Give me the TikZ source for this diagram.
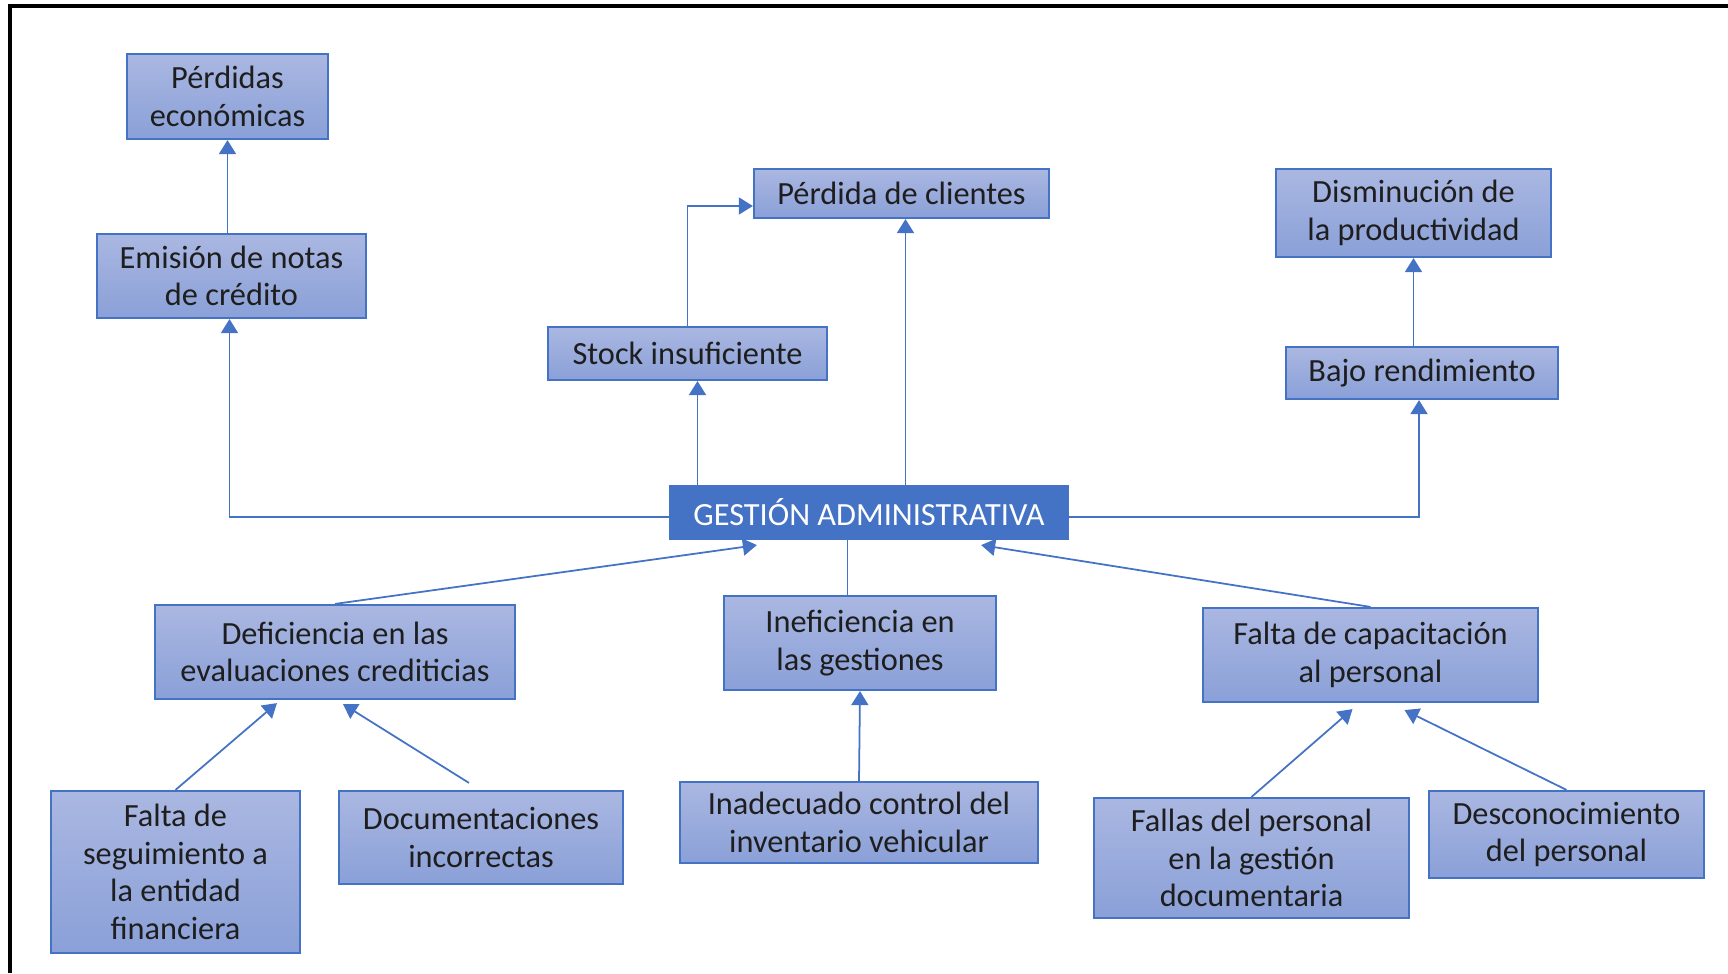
\documentclass[tikz,border=0pt]{standalone}
\usepackage{fontspec}
\setmainfont{Carlito}
\usetikzlibrary{arrows.meta}
\definecolor{boxline}{RGB}{68,114,196}
\definecolor{boxtop}{RGB}{170,183,225}
\definecolor{boxbot}{RGB}{138,160,216}
\definecolor{txt}{RGB}{30,30,30}
\begin{document}
\begin{tikzpicture}
[   x=0.01cm, y=-0.01cm,
    box/.style={draw=boxline,line width=0.6pt,top color=boxtop,bottom color=boxbot,
        text=txt,align=center,inner sep=0pt,font=\fontsize{9.2}{10.7}\selectfont},
    main/.style={box,top color=boxline,bottom color=boxline,text=white},
    link/.style={draw=boxline,line width=0.5pt},
    arr/.style={link,-{Triangle[width=1.7mm,length=1.4mm]}},
]
    \useasboundingbox (0,0) rectangle (1728,973);
    \draw[line width=0.9pt] (1728,6) -- (10,6) -- (10,973);

    % efectos
    \node[box,minimum width=2.01cm,minimum height=0.85cm] (pe) at (227.5,96.5) {Pérdidas\\económicas};
    \node[box,minimum width=2.69cm,minimum height=0.84cm] (em) at (231.5,276) {Emisión de notas\\de crédito};
    \node[box,minimum width=2.95cm,minimum height=0.49cm] (pc) at (901.5,193.5) {Pérdida de clientes};
    \node[box,minimum width=2.79cm,minimum height=0.53cm] (st) at (687.5,353.5) {Stock insuficiente};
    \node[box,minimum width=2.75cm,minimum height=0.88cm] (dp) at (1413.5,213) {Disminución de\\la productividad};
    \node[box,minimum width=2.72cm,minimum height=0.52cm] (br) at (1422,373) {Bajo rendimiento};

    \node[main,minimum width=3.98cm,minimum height=0.53cm] (ga) at (869,512.5) {GESTIÓN ADMINISTRATIVA};

    % causas
    \node[box,minimum width=3.60cm,minimum height=0.94cm] (de) at (335,652) {Deficiencia en las\\evaluaciones crediticias};
    \node[box,minimum width=2.72cm,minimum height=0.94cm] (ie) at (860,643) {Ineficiencia en\\las gestiones};
    \node[box,minimum width=3.35cm,minimum height=0.94cm] (fc) at (1370.5,655) {Falta de capacitación\\al personal};
    \node[box,minimum width=2.49cm,minimum height=1.62cm] (fs) at (175.5,872) {Falta de\\seguimiento a\\la entidad\\financiera};
    \node[box,minimum width=2.84cm,minimum height=0.93cm] (di) at (481,837.5) {Documentaciones\\incorrectas};
    \node[box,minimum width=3.58cm,minimum height=0.81cm] (ic) at (859,822.5) {Inadecuado control del\\inventario vehicular};
    \node[box,minimum width=3.15cm,minimum height=1.20cm] (fp) at (1251.5,858) {Fallas del personal\\en la gestión\\documentaria};
    \node[box,minimum width=2.75cm,minimum height=0.87cm] (dc) at (1566.5,834.5) {Desconocimiento\\del personal};

    % conexiones hacia arriba
    \draw[arr] (em.north -| pe.south) -- (pe.south);
    \draw[arr] ([yshift=-0.45mm]ga.west) -| ([xshift=-0.2mm]em.south);
    \coordinate (stx) at ([xshift=1mm]st.south);
    \draw[arr] (stx |- ga.north) -- (stx);
    \draw[arr] (st.north) |- ([yshift=-1.25mm]pc.west);
    \coordinate (pcx) at ([xshift=0.4mm]pc.south);
    \draw[arr] (pcx |- ga.north) -- (pcx);
    \draw[arr] ([yshift=-0.45mm]ga.east) -| ([xshift=-0.3mm]br.south);
    \draw[arr] (br.north -| dp.south) -- (dp.south);

    % conexiones desde las causas
    \draw[arr] (de.north) -- ([xshift=8.8mm,yshift=-0.5mm]ga.south west);
    \draw[arr] (fc.north) -- ([xshift=-8.8mm,yshift=-0.5mm]ga.south east);
    \coordinate (iex) at ([xshift=-1.25mm]ie.north);
    \draw[link] (iex) -- (iex |- ga.south);
    \draw[arr] (ic.north) -- (ie.south);
    \draw[arr] (fs.north) -- ([xshift=-5.8mm,yshift=-0.3mm]de.south);
    \draw[arr] ([xshift=-1.2mm,yshift=0.7mm]di.north) -- ([xshift=0.8mm,yshift=-0.4mm]de.south);
    \draw[arr] (fp.north) -- ([xshift=-1.8mm,yshift=-0.6mm]fc.south);
    \draw[arr] (dc.north) -- ([xshift=3.4mm,yshift=-0.7mm]fc.south);
\end{tikzpicture}
\end{document}
